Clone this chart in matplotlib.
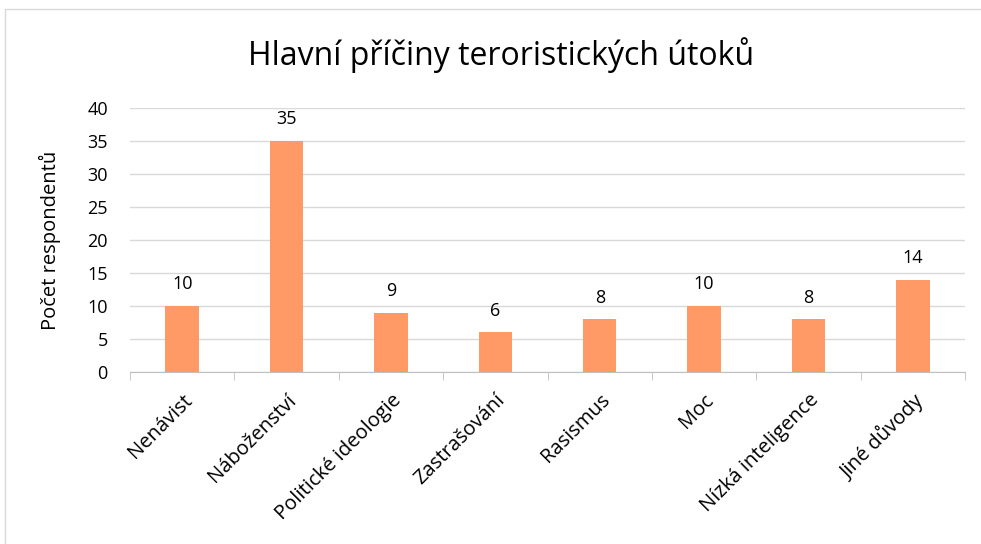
import matplotlib.pyplot as plt
from matplotlib.patches import Rectangle

categories = ['Nenávist', 'Náboženství', 'Politické ideologie', 'Zastrašování',
              'Rasismus', 'Moc', 'Nízká inteligence', 'Jiné důvody']
counts = [10, 35, 9, 6, 8, 10, 8, 14]

plt.rcParams['font.family'] = ['Open Sans', 'DejaVu Sans']

fig = plt.figure(figsize=(9.81, 5.44), dpi=100)
ax = fig.add_axes([130 / 981, 1 - 372 / 544, 835 / 981, 264 / 544])

# light frame round the whole chart, as in the spreadsheet export
fig.patches.append(Rectangle((5 / 981, -0.05), 1.1, 1 - 9 / 544 + 0.05,
                             transform=fig.transFigure, fill=False,
                             edgecolor='#D9D9D9', linewidth=1))

x = range(len(categories))
bars = ax.bar(x, counts, width=0.32, color='#FF9966', zorder=3)
for b, v in zip(bars, counts):
    ax.text(b.get_x() + b.get_width() / 2, v + 1.9, str(v),
            ha='center', va='bottom', fontsize=13)

ax.set_xlim(-0.5, len(categories) - 0.5)
ax.set_ylim(0, 40)
ax.set_yticks(range(0, 41, 5))
ax.yaxis.grid(True, color='#D9D9D9', linewidth=1, zorder=0)
ax.tick_params(axis='y', length=0, labelsize=13, pad=16)

ax.set_xticks(list(x))
ax.set_xticklabels(categories, rotation=45, ha='right', rotation_mode='anchor',
                   fontsize=14.5)
ax.set_xticks([i - 0.5 for i in range(len(categories) + 1)], minor=True)
ax.tick_params(axis='x', which='major', length=0, pad=13)
ax.tick_params(axis='x', which='minor', length=6, color='#BFBFBF')

for side in ['top', 'right', 'left']:
    ax.spines[side].set_visible(False)
ax.spines['bottom'].set_color('#BFBFBF')

ax.set_ylabel('Počet respondentů', fontsize=14.5, labelpad=19)
fig.text(501 / 981, 1 - 55 / 544, 'Hlavní příčiny teroristických útoků',
         ha='center', va='center', fontsize=23)

fig.savefig('out.png', dpi=100)
